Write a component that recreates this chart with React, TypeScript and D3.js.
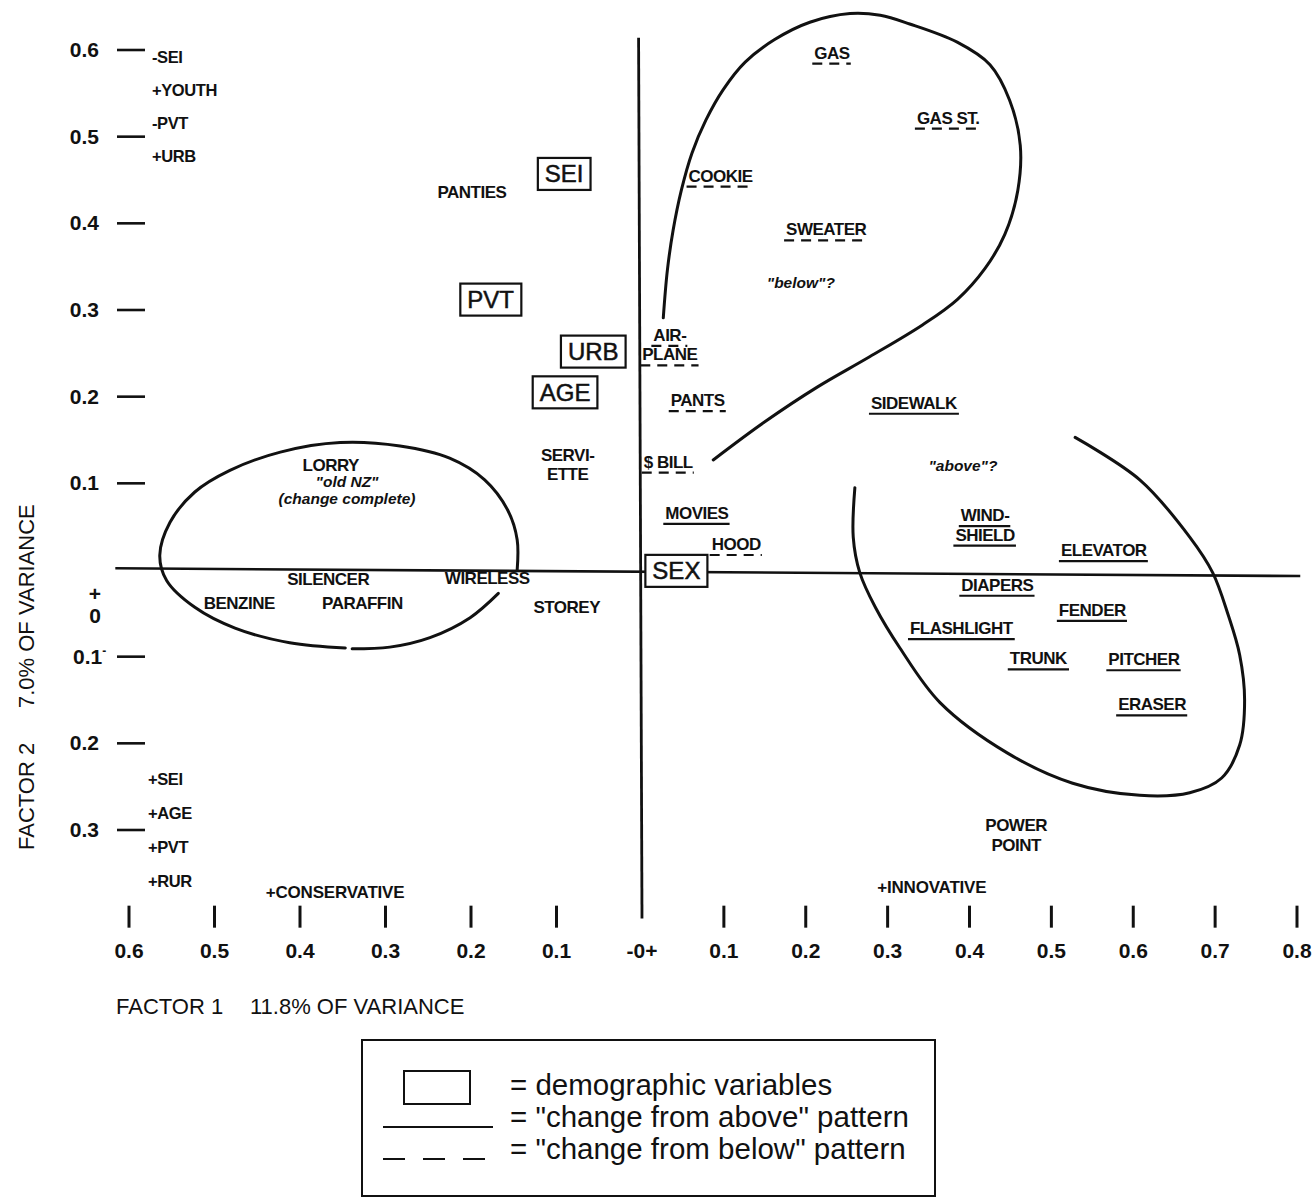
import React, { useEffect, useRef } from 'react';
import * as d3 from 'd3';

const width = 1312;
const height = 1200;
const font = '"Liberation Sans", Arial, Helvetica, sans-serif';

// lexical variables: loadings on factor 1 (left side negative) and factor 2
// pattern: 'above' = solid underline, 'below' = dashed underline, 'none'
const lexicalItems = [
  { label: 'GAS', f1: 0.232, f2: 0.597, pattern: 'below' },
  { label: 'GAS ST.', f1: 0.374, f2: 0.522, pattern: 'below' },
  { label: 'COOKIE', f1: 0.096, f2: 0.455, pattern: 'below' },
  { label: 'SWEATER', f1: 0.225, f2: 0.393, pattern: 'below' },
  { label: 'AIR-\nPLANE', f1: 0.034, f2: 0.26, pattern: 'below' },
  { label: 'PANTS', f1: 0.068, f2: 0.196, pattern: 'below' },
  { label: 'SIDEWALK', f1: 0.332, f2: 0.193, pattern: 'above' },
  { label: '$ BILL', f1: 0.032, f2: 0.125, pattern: 'below' },
  { label: 'MOVIES', f1: 0.067, f2: 0.066, pattern: 'above' },
  { label: 'HOOD', f1: 0.115, f2: 0.03, pattern: 'below' },
  { label: 'WIND-\nSHIELD', f1: 0.419, f2: 0.052, pattern: 'above' },
  { label: 'ELEVATOR', f1: 0.564, f2: 0.023, pattern: 'above' },
  { label: 'DIAPERS', f1: 0.434, f2: -0.017, pattern: 'above' },
  { label: 'FENDER', f1: 0.55, f2: -0.046, pattern: 'above' },
  { label: 'FLASHLIGHT', f1: 0.39, f2: -0.067, pattern: 'above' },
  { label: 'TRUNK', f1: 0.484, f2: -0.102, pattern: 'above' },
  { label: 'PITCHER', f1: 0.613, f2: -0.103, pattern: 'above' },
  { label: 'ERASER', f1: 0.623, f2: -0.155, pattern: 'above' },
  { label: 'POWER\nPOINT', f1: 0.457, f2: -0.306, pattern: 'none' },
  { label: 'PANTIES', f1: -0.199, f2: 0.436, pattern: 'none' },
  { label: 'SERVI-\nETTE', f1: -0.087, f2: 0.122, pattern: 'none' },
  { label: 'LORRY', f1: -0.364, f2: 0.121, pattern: 'none' },
  { label: 'SILENCER', f1: -0.367, f2: -0.01, pattern: 'none' },
  { label: 'WIRELESS', f1: -0.181, f2: -0.009, pattern: 'none' },
  { label: 'BENZINE', f1: -0.471, f2: -0.038, pattern: 'none' },
  { label: 'PARAFFIN', f1: -0.327, f2: -0.038, pattern: 'none' },
  { label: 'STOREY', f1: -0.088, f2: -0.043, pattern: 'none' },
];

// demographic variables (boxed)
const demographics = [
  { label: 'SEI', f1: -0.091, f2: 0.457 },
  { label: 'PVT', f1: -0.177, f2: 0.312 },
  { label: 'URB', f1: -0.057, f2: 0.252 },
  { label: 'AGE', f1: -0.09, f2: 0.205 },
  { label: 'SEX', f1: 0.042, f2: -0.001 },
];

const italicNotes = [
  { label: '"below"?', f1: 0.194, f2: 0.331 },
  { label: '"above"?', f1: 0.392, f2: 0.12 },
  { label: '"old NZ"\n(change complete)', f1: -0.345, f2: 0.092 },
];

const poleNotes = [
  { label: '+CONSERVATIVE', f1: -0.359, f2: -0.372 },
  { label: '+INNOVATIVE', f1: 0.354, f2: -0.366 },
];

const factor2Positive = ['-SEI', '+YOUTH', '-PVT', '+URB'];
const factor2Negative = ['+SEI', '+AGE', '+PVT', '+RUR'];

const xTicks = [-0.6, -0.5, -0.4, -0.3, -0.2, -0.1, 0, 0.1, 0.2, 0.3, 0.4, 0.5, 0.6, 0.7, 0.8];
const yTicks = [0.6, 0.5, 0.4, 0.3, 0.2, 0.1, -0.1, -0.2, -0.3];

// hand-drawn outlines, in factor units
const belowOutline = [
  [0.026, 0.291], [0.031, 0.346], [0.038, 0.392], [0.048, 0.438], [0.061, 0.481],
  [0.078, 0.519], [0.099, 0.554], [0.126, 0.586], [0.162, 0.612], [0.205, 0.632],
  [0.254, 0.642], [0.291, 0.64], [0.327, 0.63], [0.385, 0.609], [0.425, 0.583],
  [0.449, 0.542], [0.462, 0.49], [0.459, 0.438], [0.443, 0.387], [0.419, 0.348],
  [0.385, 0.312], [0.343, 0.283], [0.278, 0.246], [0.214, 0.211], [0.15, 0.171],
  [0.087, 0.127],
];

const oldNzOutlineA = [
  [-0.168, -0.027], [-0.201, -0.055], [-0.248, -0.078], [-0.295, -0.089], [-0.339, -0.091],
];
const oldNzOutlineB = [
  [-0.347, -0.09], [-0.412, -0.084], [-0.476, -0.067], [-0.523, -0.043], [-0.556, -0.012],
  [-0.564, 0.017], [-0.552, 0.055], [-0.523, 0.09], [-0.482, 0.115], [-0.423, 0.136],
  [-0.353, 0.147], [-0.283, 0.143], [-0.225, 0.129], [-0.184, 0.104], [-0.157, 0.069],
  [-0.146, 0.035], [-0.146, 0.0],
];

const aboveOutline = [
  [0.26, 0.095], [0.258, 0.038], [0.266, -0.003], [0.285, -0.043], [0.315, -0.09],
  [0.364, -0.153], [0.446, -0.211], [0.526, -0.246], [0.608, -0.26], [0.669, -0.257],
  [0.708, -0.24], [0.73, -0.202], [0.736, -0.15], [0.73, -0.098], [0.716, -0.052],
  [0.697, -0.003], [0.669, 0.038], [0.608, 0.104], [0.529, 0.153],
];

const legendItems = [
  '= demographic variables',
  '= "change from above" pattern',
  '= "change from below" pattern',
];

const fmt = (v) => (v === 0 ? '-0+' : Math.abs(v).toFixed(1));

export default function App() {
  const ref = useRef(null);

  useEffect(() => {
    const svg = d3.select(ref.current);
    svg.selectAll('*').remove();

    const x = d3.scaleLinear().domain([-0.6, 0, 0.8]).range([129, 642, 1297]);
    const y = d3.scaleLinear().domain([-0.3, 0.6]).range([830, 50]);

    const g = svg.append('g').attr('font-family', font).attr('fill', '#111');

    // axes lines through origin (the original is drawn a little off square)
    g.append('line')
      .attr('x1', x(-0.004)).attr('x2', x(0))
      .attr('y1', y(0.614)).attr('y2', y(-0.402))
      .attr('stroke', '#111').attr('stroke-width', 2.8);
    g.append('line')
      .attr('x1', x(-0.616)).attr('x2', x(0.804))
      .attr('y1', y(0.002)).attr('y2', y(-0.007))
      .attr('stroke', '#111').attr('stroke-width', 2.6);

    // y ticks
    const yTickG = g.append('g');
    yTicks.forEach((t) => {
      yTickG.append('line')
        .attr('x1', 117).attr('x2', 145)
        .attr('y1', y(t)).attr('y2', y(t))
        .attr('stroke', '#111').attr('stroke-width', 2.6);
      const txt = yTickG.append('text')
        .attr('x', 99).attr('y', y(t) + 7)
        .attr('text-anchor', 'end')
        .attr('font-size', 21).attr('font-weight', 'bold')
        .text(fmt(t));
      if (t === -0.1) {
        txt.attr('text-anchor', 'start').attr('x', 73);
        txt.append('tspan').attr('dy', -9).attr('font-size', 12).text('-');
      }
    });
    yTickG.append('text')
      .attr('x', 95).attr('y', y(0) + 31)
      .attr('text-anchor', 'middle').attr('font-size', 21).attr('font-weight', 'bold')
      .text('+');
    yTickG.append('text')
      .attr('x', 95).attr('y', y(0) + 53)
      .attr('text-anchor', 'middle').attr('font-size', 21).attr('font-weight', 'bold')
      .text('0');

    // x ticks
    const xBase = y(-0.4);
    xTicks.forEach((t) => {
      if (t !== 0) {
        g.append('line')
          .attr('x1', x(t)).attr('x2', x(t))
          .attr('y1', xBase - 11).attr('y2', xBase + 11)
          .attr('stroke', '#111').attr('stroke-width', 3);
      }
      g.append('text')
        .attr('x', x(t)).attr('y', xBase + 41)
        .attr('text-anchor', 'middle')
        .attr('font-size', 21).attr('font-weight', 'bold')
        .text(fmt(t));
    });

    // axis titles
    g.append('text').attr('x', 116).attr('y', 1014).attr('font-size', 22).text('FACTOR 1');
    g.append('text').attr('x', 250).attr('y', 1014).attr('font-size', 22).text('11.8% OF VARIANCE');
    g.append('text').attr('transform', 'translate(34,850) rotate(-90)').attr('font-size', 22).text('FACTOR 2');
    g.append('text').attr('transform', 'translate(34,708) rotate(-90)').attr('font-size', 22).text('7.0% OF VARIANCE');

    // pole annotations beside factor 2 axis
    factor2Positive.forEach((s, i) => {
      g.append('text').attr('x', 152).attr('y', y(0.6) + 13 + i * 33)
        .attr('font-size', 16.5).attr('font-weight', 'bold').attr('letter-spacing', -0.4).text(s);
    });
    factor2Negative.forEach((s, i) => {
      g.append('text').attr('x', 148).attr('y', y(-0.2) + 42 + i * 34)
        .attr('font-size', 16.5).attr('font-weight', 'bold').attr('letter-spacing', -0.4).text(s);
    });
    poleNotes.forEach((d) => {
      g.append('text').attr('x', x(d.f1)).attr('y', y(d.f2) + 6)
        .attr('text-anchor', 'middle')
        .attr('font-size', 17).attr('font-weight', 'bold').attr('letter-spacing', -0.2).text(d.label);
    });

    // outlines
    const line = d3.line()
      .x((d) => x(d[0]))
      .y((d) => y(d[1]))
      .curve(d3.curveCatmullRom.alpha(0.5));
    [belowOutline, oldNzOutlineA, oldNzOutlineB, aboveOutline].forEach((pts) => {
      g.append('path').attr('d', line(pts))
        .attr('fill', 'none').attr('stroke', '#111').attr('stroke-width', 3)
        .attr('stroke-linecap', 'round');
    });

    // lexical items
    const lineH = 19.5;
    lexicalItems.forEach((d) => {
      const lines = d.label.split('\n');
      lines.forEach((s, i) => {
        const by = y(d.f2) + 6 + (i - (lines.length - 1) / 2) * lineH;
        const t = g.append('text')
          .attr('x', x(d.f1)).attr('y', by)
          .attr('text-anchor', 'middle')
          .attr('font-size', 17).attr('font-weight', 'bold').attr('letter-spacing', -0.5)
          .text(s);
        if (d.pattern !== 'none') {
          const bb = t.node().getBBox();
          g.append('line')
            .attr('x1', bb.x - 2).attr('x2', bb.x + bb.width + 1)
            .attr('y1', by + 5).attr('y2', by + 5)
            .attr('stroke', '#111').attr('stroke-width', 2.2)
            .attr('stroke-dasharray', d.pattern === 'below' ? '10,7' : null);
        }
      });
    });

    // demographic boxes
    demographics.forEach((d) => {
      const cx = x(d.f1);
      const cy = y(d.f2);
      const t = g.append('text')
        .attr('x', cx).attr('y', cy + 8.5)
        .attr('text-anchor', 'middle').attr('font-size', 24)
        .attr('stroke', '#111').attr('stroke-width', 0.5)
        .text(d.label);
      const bb = t.node().getBBox();
      g.insert('rect', () => t.node())
        .attr('x', bb.x - 7).attr('y', cy - 16)
        .attr('width', bb.width + 14).attr('height', 32)
        .attr('fill', '#fff').attr('stroke', '#111').attr('stroke-width', 2.2);
    });

    // italic notes
    italicNotes.forEach((d) => {
      const lines = d.label.split('\n');
      lines.forEach((s, i) => {
        g.append('text')
          .attr('x', x(d.f1)).attr('y', y(d.f2) + 5 + (i - (lines.length - 1) / 2) * 17)
          .attr('text-anchor', 'middle')
          .attr('font-size', 15.5).attr('font-weight', 'bold').attr('font-style', 'italic')
          .text(s);
      });
    });

    // legend
    const lg = svg.append('g').attr('font-family', font).attr('fill', '#111');
    lg.append('rect').attr('x', 362).attr('y', 1040).attr('width', 573).attr('height', 156)
      .attr('fill', 'none').attr('stroke', '#111').attr('stroke-width', 2);
    lg.append('rect').attr('x', 404).attr('y', 1071).attr('width', 66).attr('height', 33)
      .attr('fill', 'none').attr('stroke', '#111').attr('stroke-width', 2);
    lg.append('line').attr('x1', 383).attr('x2', 493).attr('y1', 1127).attr('y2', 1127)
      .attr('stroke', '#111').attr('stroke-width', 2);
    lg.append('line').attr('x1', 383).attr('x2', 493).attr('y1', 1159).attr('y2', 1159)
      .attr('stroke', '#111').attr('stroke-width', 2).attr('stroke-dasharray', '22,18');
    legendItems.forEach((s, i) => {
      lg.append('text').attr('x', 510).attr('y', 1095 + i * 32)
        .attr('font-size', 29.5).text(s);
    });
  }, []);

  return (
    <svg
      ref={ref}
      width={width}
      height={height}
      style={{ position: 'absolute', left: 0, top: 0, background: '#fff' }}
    />
  );
}
